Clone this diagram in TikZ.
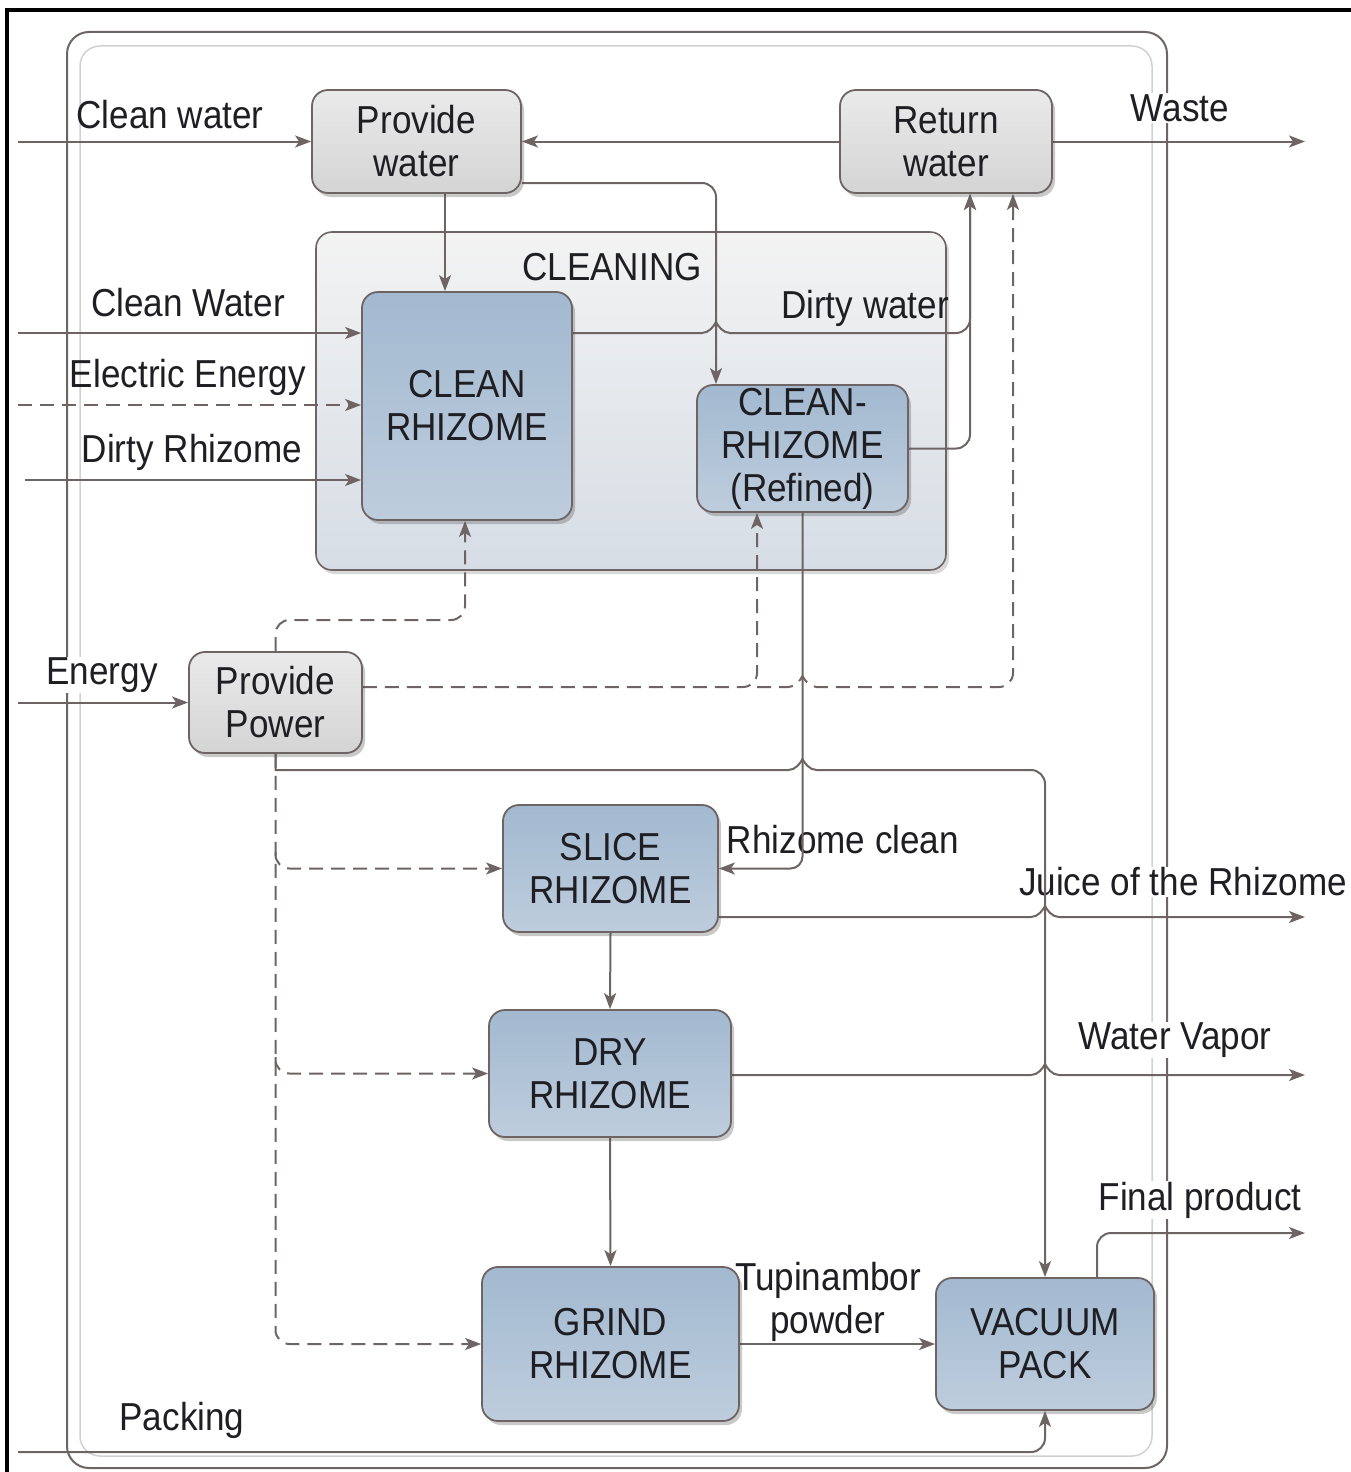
\documentclass[tikz,border=0pt]{standalone}
\usepackage{fontspec}
\setmainfont{Liberation Sans}[FakeStretch=0.9]
\usetikzlibrary{arrows.meta,shadows,calc}
\definecolor{lc}{RGB}{110,100,100}
\definecolor{txt}{RGB}{30,30,35}
\definecolor{gbA}{RGB}{234,234,234}
\definecolor{gbB}{RGB}{212,212,212}
\definecolor{bbA}{RGB}{162,185,208}
\definecolor{bbB}{RGB}{190,205,221}
\definecolor{cnA}{RGB}{243,243,243}
\definecolor{cnB}{RGB}{214,221,229}
\newcommand\fs{\fontsize{39}{43}\selectfont}
\newcommand\myhop[2]{-- ({#1-14},#2) .. controls ({#1-7},#2) and ({#1-2},{#2-7}) .. (#1,{#2-11}) .. controls ({#1+2},{#2-7}) and ({#1+7},#2) .. ({#1+14},#2)}
\pgfdeclarelayer{bg}
\pgfdeclarelayer{lines}
\pgfsetlayers{bg,lines,main}
\tikzset{
  box/.style={draw=lc, line width=1.8pt, rounded corners=16pt, inner sep=0pt, align=center, font=\fs, text=txt,
    drop shadow={shadow xshift=3pt, shadow yshift=-4pt, opacity=0.3, fill=black!70}},
  graybox/.style={box, top color=gbA, bottom color=gbB},
  bluebox/.style={box, top color=bbA, bottom color=bbB},
  lbl/.style={font=\fs, text=txt, inner sep=1pt, align=center},
  wlbl/.style={lbl, fill=white},
  flow/.style={draw=lc, line width=2pt, -{Stealth[length=16pt,width=12pt,inset=4pt]}},
  dflow/.style={flow, dash pattern=on 14pt off 8pt},
}
\begin{document}
\begin{tikzpicture}[x=1pt,y=-1pt]
\useasboundingbox (0,0) rectangle (1351,1472);
% ---- boxes
\node[graybox, minimum width=209pt, minimum height=103pt] (pw) at (416.5,141.5) {Provide\\water};
\node[graybox, minimum width=212pt, minimum height=103pt] (rw) at (946,141.5) {Return\\water};
\node[bluebox, minimum width=210pt, minimum height=228pt] (cr) at (467,406) {CLEAN\\RHIZOME};
\node[bluebox, minimum width=211pt, minimum height=127pt] (crr) at (802.5,448.5) {CLEAN-\\RHIZOME\\(Refined)};
\node[graybox, minimum width=173pt, minimum height=101pt] (pp) at (275.5,702.5) {Provide\\Power};
\node[bluebox, minimum width=215pt, minimum height=127pt] (sl) at (610.5,868.5) {SLICE\\RHIZOME};
\node[bluebox, minimum width=242pt, minimum height=127pt] (dr) at (610,1073.5) {DRY\\RHIZOME};
\node[bluebox, minimum width=257pt, minimum height=154pt] (gr) at (610.5,1344) {GRIND\\RHIZOME};
\node[bluebox, minimum width=218pt, minimum height=132pt] (vp) at (1045,1344) {VACUUM\\PACK};
% ---- free ends
\coordinate (inCW) at (18,141.5);
\coordinate (outW) at (1305,141.5);
\coordinate (inCW2) at (18,333);
\coordinate (inEE) at (18,405);
\coordinate (inDR) at (25,480);
\coordinate (inE) at (18,702.5);
\coordinate (outJ) at (1305,917);
\coordinate (outV) at (1305,1075);
\coordinate (outF) at (1305,1233);
\coordinate (inP) at (18,1452);
% ---- background
\begin{pgfonlayer}{bg}
  \draw[black, line width=4pt] (5,10) -- (1351,10);
  \draw[black, line width=4pt] (7,8) -- (7,1472);
  \draw[lc, line width=2pt, rounded corners=22pt] (67,32) rectangle (1167,1468);
  \draw[black!18, line width=1.5pt, rounded corners=20pt] (80,46) rectangle (1152,1456);
  \node[draw=lc, line width=1.6pt, rounded corners=16pt, top color=cnA, bottom color=cnB,
        minimum width=630pt, minimum height=338pt, inner sep=0pt,
        drop shadow={shadow xshift=3pt, shadow yshift=-4pt, opacity=0.25, fill=black!60}] (cln) at (631,401) {};
  \node[lbl] (tCLN) at (612,267) {CLEANING};
  \node[lbl] (tDW) at (865,308) {Dirty water};
  \node[lbl] (tCW) at (170,115) {Clean water};
  \node[lbl] (tCW2) at (188,303) {Clean Water};
  \node[lbl] (tEE) at (188,377) {Electric Energy};
  \node[lbl] (tDR) at (192,452) {Dirty Rhizome};
  \node[wlbl] (tE) at (102,675) {Energy};
  \node[wlbl] (tW) at (1180,108) {Waste};
  \node[lbl] (tRC) at (843,840) {Rhizome clean};
  \node[wlbl] (tJ) at (1183,882) {Juice of the Rhizome};
  \node[wlbl] (tV) at (1175,1040) {Water Vapor};
  \node[wlbl] (tF) at (1200,1200) {Final product};
  \node[lbl] (tT) at (828,1302) {Tupinambor\\powder};
  \node[lbl] (tP) at (182,1420) {Packing};
\end{pgfonlayer}
% ---- connectors
\begin{pgfonlayer}{lines}
  \draw[flow] (inCW) -- (pw.west);
  \draw[flow] (rw.west) -- (pw.east);
  \draw[flow] (rw.east) -- (outW);
  \draw[flow] (pw.south -| 445,0) -- (cr.north -| 445,0);
  \draw[flow, rounded corners=14pt] (pw.east |- 0,183) -- (716,183) -- (crr.north -| 716,0);
  \draw[flow] (inCW2) -- (cr.west |- 0,333);
  \draw[dflow] (inEE) -- (cr.west |- 0,405);
  \draw[flow] (inDR) -- (cr.west |- 0,480);
  \draw[flow] (cr.east |- 0,333) \myhop{716}{333} [rounded corners=14pt] -- (970,333) -- (rw.south -| 970,0);
  \draw[flow, rounded corners=14pt] (crr.east) -- (970,448.5) -- (rw.south -| 970,0);
  \draw[dflow, rounded corners=14pt] (pp.east |- 0,687) -- (757,687) -- (crr.south -| 757,0);
  \draw[dflow] (757,687) \myhop{802.5}{687} [rounded corners=14pt] -- (1013,687) -- (rw.south -| 1013,0);
  \draw[dflow, rounded corners=14pt] (pp.north) -- (275.5,620) -- (465,620) -- (cr.south -| 465,0);
  \draw[flow] (pp.south) -- (275.5,770) \myhop{802.5}{770} [rounded corners=14pt] -- (1045,770) -- (vp.north);
  \draw[dflow, rounded corners=14pt] (pp.south) -- (275.5,1344) -- (gr.west);
  \draw[dflow, rounded corners=14pt] (275.5,852) -- (275.5,868.5) -- (sl.west);
  \draw[dflow, rounded corners=14pt] (275.5,1057) -- (275.5,1073.5) -- (dr.west);
  \draw[flow, rounded corners=12pt] (crr.south) -- (crr.south |- 0,868.5) -- (sl.east);
  \draw[flow] (sl.east |- 0,917) \myhop{1045}{917} -- (outJ);
  \draw[flow] (dr.east |- 0,1075) \myhop{1045}{1075} -- (outV);
  \draw[flow] (sl.south) -- (dr.north);
  \draw[flow] (dr.south) -- (gr.north);
  \draw[flow] (gr.east) -- (vp.west);
  \draw[flow, rounded corners=14pt] (vp.north -| 1097,0) -- (1097,1233) -- (outF);
  \draw[flow, rounded corners=14pt] (inP) -- (1045,1452) -- (vp.south);
  \draw[flow] (inE) -- (pp.west);
\end{pgfonlayer}
\end{tikzpicture}
\end{document}
